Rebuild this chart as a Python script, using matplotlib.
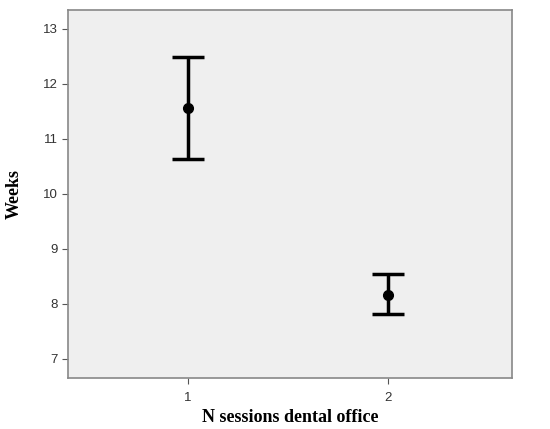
import matplotlib
matplotlib.use("Agg")
import matplotlib.pyplot as plt

# data
sessions = [1, 2]
means = [11.56, 8.17]
ci_low = [10.64, 7.81]
ci_high = [12.49, 8.54]

err_lo = [m - l for m, l in zip(means, ci_low)]
err_hi = [h - m for m, h in zip(means, ci_high)]

fig = plt.figure(figsize=(5.5, 4.29), dpi=100)
ax = fig.add_axes([0.1236, 0.119, 0.8073, 0.858])
ax.set_facecolor("#efefef")

ax.errorbar(sessions, means, yerr=[err_lo, err_hi], fmt="o", color="black",
            markersize=7, elinewidth=2.5, capsize=11.5, capthick=2.5)

ax.set_xlim(0.4, 2.62)
ax.set_ylim(6.655, 13.345)
ax.set_xticks(sessions)
ax.set_yticks(range(7, 14))

for s in ax.spines.values():
    s.set_color("#888888")
    s.set_linewidth(1.2)
ax.tick_params(colors="#555555", labelcolor="#333333", labelsize=9.5, length=4)
ax.tick_params(axis="x", pad=6)
for lbl in ax.get_xticklabels() + ax.get_yticklabels():
    lbl.set_family("Liberation Sans")

ax.set_xlabel("N sessions dental office", fontfamily="Liberation Serif",
              fontweight="bold", fontsize=13, labelpad=4)
ax.set_ylabel("Weeks", fontfamily="Liberation Serif",
              fontweight="bold", fontsize=13, labelpad=14)

fig.savefig("out.png", dpi=100)
